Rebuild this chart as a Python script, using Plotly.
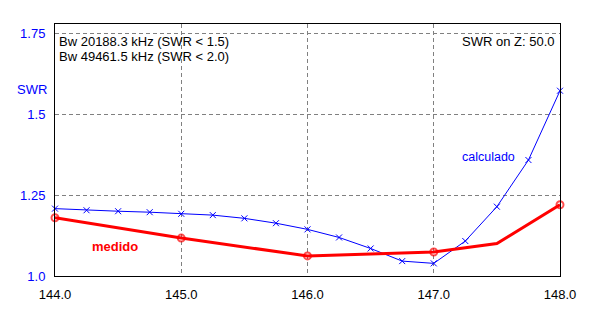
import plotly.graph_objects as go

# Data
calc_freq = [144.0, 144.25, 144.5, 144.75, 145.0, 145.25, 145.5, 145.75, 146.0,
             146.25, 146.5, 146.75, 147.0, 147.25, 147.5, 147.75, 148.0]
calc_swr = [1.208, 1.203, 1.200, 1.197, 1.192, 1.188, 1.178, 1.163, 1.144,
            1.119, 1.085, 1.046, 1.039, 1.108, 1.214, 1.358, 1.572]
meas_freq = [144.0, 145.0, 146.0, 147.0, 147.5, 148.0]
meas_swr = [1.180, 1.117, 1.062, 1.074, 1.100, 1.220]
meas_marker = [7, 7, 7, 7, 0, 7]

x_ticks = [144.0, 145.0, 146.0, 147.0, 148.0]
x_ticktext = ["144.0", "145.0", "146.0", "147.0", "148.0"]
y_ticks = [1.0, 1.25, 1.5, 1.75]
y_ticktext = ["1.0", "1.25", "1.5", "1.75"]

FONT = "Liberation Sans, Arial, sans-serif"

fig = go.Figure()
fig.add_trace(go.Scatter(
    x=calc_freq, y=calc_swr, mode="lines+markers",
    line=dict(color="#0000FF", width=1),
    marker=dict(symbol="x-thin", size=6, line=dict(color="#0000FF", width=1)),
    showlegend=False, cliponaxis=False))
fig.add_trace(go.Scatter(
    x=meas_freq, y=meas_swr, mode="lines+markers",
    line=dict(color="#FF0000", width=3),
    marker=dict(symbol="circle-open", size=meas_marker, color="#FF0000",
                line=dict(color="#FF0000", width=2)),
    showlegend=False, cliponaxis=False))

grid = dict(showgrid=True, gridcolor="#808080", griddash="4px,3px", gridwidth=1)

fig.update_xaxes(range=[144.0, 148.0], tickvals=x_ticks, ticktext=x_ticktext,
                 tickfont=dict(family=FONT, size=13, color="black"),
                 showline=True, linecolor="black", linewidth=1, mirror=True,
                 zeroline=False, ticks="", ticklabelstandoff=6, **grid)
fig.update_yaxes(range=[1.0, 1.778], tickvals=y_ticks, ticktext=y_ticktext,
                 tickfont=dict(family=FONT, size=13, color="#0000FF"),
                 showline=True, linecolor="black", linewidth=1, mirror=True,
                 zeroline=False, ticks="", ticklabelstandoff=6, **grid)

# plot area (page px): x 55..560, y 24..276 ; page body has 8px margin
PW, PH = 505, 252
def px(x):
    return (x - 55) / PW
def py(y):
    return (276 - y) / PH

ann_font = dict(family=FONT, size=13, color="black")
fig.update_layout(
    width=587, height=312,
    margin=dict(l=47, r=35, t=16, b=44),
    paper_bgcolor="white", plot_bgcolor="white",
    annotations=[
        dict(text="Bw 20188.3 kHz (SWR < 1.5)", xref="paper", yref="paper",
             x=px(57), y=py(41), xanchor="left", yanchor="middle",
             showarrow=False, font=ann_font),
        dict(text="Bw 49461.5 kHz (SWR < 2.0)", xref="paper", yref="paper",
             x=px(57), y=py(56), xanchor="left", yanchor="middle",
             showarrow=False, font=ann_font),
        dict(text="SWR on Z: 50.0", xref="paper", yref="paper",
             x=px(556), y=py(41), xanchor="right", yanchor="middle",
             showarrow=False, font=ann_font),
        dict(text="SWR", xref="paper", yref="paper",
             x=px(15), y=py(89), xanchor="left", yanchor="middle",
             showarrow=False, font=dict(family=FONT, size=13, color="#0000FF")),
        dict(text="calculado", xref="paper", yref="paper",
             x=px(460), y=py(157), xanchor="left", yanchor="middle",
             showarrow=False, font=dict(family=FONT, size=12.5, color="#0000FF")),
        dict(text="<b>medido</b>", xref="paper", yref="paper",
             x=px(90), y=py(246), xanchor="left", yanchor="middle",
             showarrow=False, font=dict(family=FONT, size=13, color="#FF0000")),
    ],
)

fig.write_html("out.html")
